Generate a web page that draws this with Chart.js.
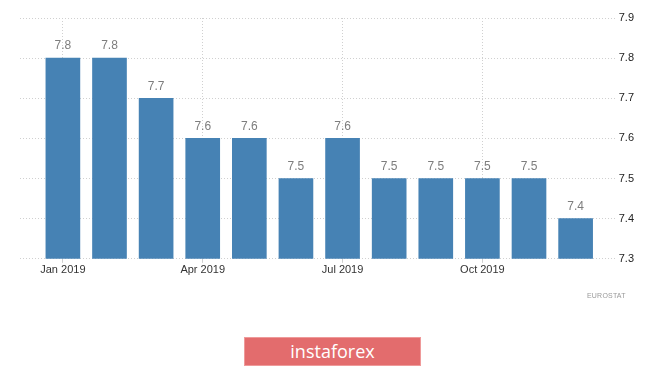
<!DOCTYPE html>
<html>
<head>
<meta charset="utf-8">
<script src="https://cdn.jsdelivr.net/npm/chart.js@4"></script>
<style>
  html, body { margin: 0; padding: 0; background: #fff; }
  #wrap { position: relative; width: 665px; height: 367px; overflow: hidden; }
  #wrap canvas { position: absolute; left: 0; top: 0; }
  #source { position: absolute; left: 587px; top: 292px; font: 7px "Liberation Sans", Arial, sans-serif; color: #999; letter-spacing: 0.2px; }
  #banner { position: absolute; left: 244px; top: 337px; width: 177px; height: 29px; background: #e36c6d;
            border: 1px solid #ef9a9a; box-sizing: border-box; color: #fff; text-align: center;
            font: 18px "Open Sans", "Noto Sans", sans-serif; line-height: 26px; }
</style>
</head>
<body>
<div id="wrap">
  <canvas id="rateChart" width="665" height="367"></canvas>
  <div id="source">EUROSTAT</div>
  <div id="banner">instaforex</div>
</div>
<script>
// dữ liệu
const months = ['Jan 2019', 'Feb 2019', 'Mar 2019', 'Apr 2019', 'May 2019', 'Jun 2019',
                'Jul 2019', 'Aug 2019', 'Sep 2019', 'Oct 2019', 'Nov 2019', 'Dec 2019'];
const rates = [7.8, 7.8, 7.7, 7.6, 7.6, 7.5, 7.6, 7.5, 7.5, 7.5, 7.5, 7.4];
const xTickIdx = [0, 3, 6, 9];   // Jan, Apr, Jul, Oct
const yMin = 7.3, yMax = 7.9, yStep = 0.1;

// nhãn giá trị trên đầu cột
const valueLabels = {
    id: 'valueLabels',
    afterDatasetsDraw(chart) {
        const ctx = chart.ctx;
        const meta = chart.getDatasetMeta(0);
        ctx.save();
        ctx.font = '12px "Liberation Sans", Arial, sans-serif';
        ctx.fillStyle = '#7d7d7d';
        ctx.textAlign = 'center';
        ctx.textBaseline = 'bottom';
        meta.data.forEach((bar, i) => {
            ctx.fillText(rates[i].toFixed(1), bar.x, bar.y - 6);
        });
        ctx.restore();
    }
};

const ctx = document.getElementById('rateChart').getContext('2d');
new Chart(ctx, {
    type: 'bar',
    data: {
        datasets: [{
            data: rates.map((v, i) => ({ x: i, y: v })),
            backgroundColor: '#4682b4',
            borderWidth: 0,
            barThickness: 34
        }]
    },
    options: {
        responsive: false,
        animation: false,
        layout: { padding: { left: 20, right: 28, top: 18, bottom: 89 } },
        plugins: {
            legend: { display: false },
            tooltip: { enabled: false }
        },
        scales: {
            x: {
                type: 'linear',
                min: -0.92,
                max: 11.86,
                offset: false,
                afterBuildTicks: scale => {
                    scale.ticks = xTickIdx.map(v => ({ value: v }));
                },
                grid: {
                    offset: false,
                    color: '#d0d0d0',
                    tickLength: 4,
                    tickColor: '#d0d0d0'
                },
                border: { display: false, dash: [1, 2] },
                ticks: {
                    autoSkip: false,
                    maxRotation: 0,
                    padding: 1,
                    color: '#333',
                    font: { family: '"Liberation Sans", Arial, sans-serif', size: 11 },
                    callback: v => months[v]
                }
            },
            y: {
                position: 'right',
                min: yMin,
                max: yMax,
                grid: { color: '#d0d0d0', drawTicks: false },
                border: { display: false, dash: [1, 2] },
                ticks: {
                    stepSize: yStep,
                    padding: 3,
                    color: '#222',
                    font: { family: '"Liberation Sans", Arial, sans-serif', size: 11 },
                    callback: v => v.toFixed(1)
                }
            }
        }
    },
    plugins: [valueLabels]
});
</script>
</body>
</html>
